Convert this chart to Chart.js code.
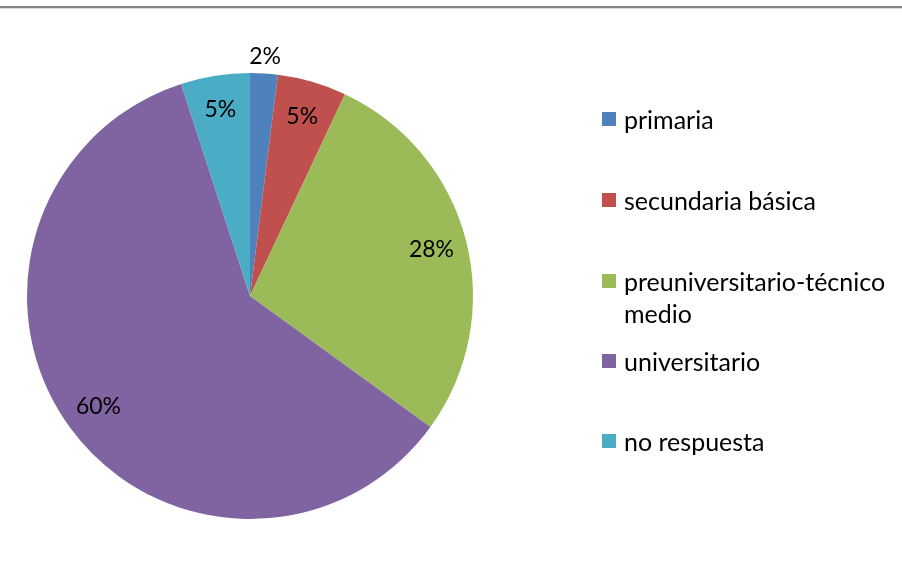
<!DOCTYPE html>
<html>
<head>
<meta charset="utf-8">
<script src="https://cdn.jsdelivr.net/npm/chart.js@4/dist/chart.umd.min.js"></script>
<style>
  body { margin: 0; background: #fff; }
  #wrap { position: relative; width: 902px; height: 579px; }
  #topline { position: absolute; left: 0; top: 6px; width: 902px; height: 2px; background: #868686; border-bottom: 1px solid #d9d9d9; }
  #legend { position: absolute; left: 602px; top: 0; font-family: Lato, sans-serif; font-size: 25px; color: #000; }
  .item { position: absolute; left: 0; width: 300px; }
  .box { position: absolute; left: 0; width: 14px; height: 14px; }
  .txt { position: absolute; left: 22px; top: 0; line-height: 32px; white-space: nowrap; }
</style>
</head>
<body>
<div id="wrap">
  <canvas id="pieChart" width="902" height="579"></canvas>
  <div id="topline"></div>
  <div id="legend"></div>
</div>
<script>
  const categories = ['primaria', 'secundaria básica', 'preuniversitario-técnico medio', 'universitario', 'no respuesta'];
  const legendLines = [['primaria'], ['secundaria básica'], ['preuniversitario-técnico', 'medio'], ['universitario'], ['no respuesta']];
  const percentages = [2, 5, 28, 60, 5];
  const colors = ['#4F81BD', '#C0504D', '#9BBB59', '#8064A2', '#4BACC6'];
  // how far out each label sits (fraction of the radius)
  const labelRadius = [1.08, 0.84, 0.84, 0.84, 0.85];

  // Plugin to draw the percentage labels
  const pieLabels = {
    id: 'pieLabels',
    afterDatasetsDraw(chart) {
      const ctx = chart.ctx;
      const meta = chart.getDatasetMeta(0);
      ctx.save();
      ctx.font = '23px Lato, sans-serif';
      ctx.fillStyle = '#000';
      ctx.textAlign = 'center';
      ctx.textBaseline = 'alphabetic';
      meta.data.forEach((arc, i) => {
        const mid = (arc.startAngle + arc.endAngle) / 2;
        const r = arc.outerRadius * labelRadius[i];
        // +8 puts the digits' middle on the anchor point
        ctx.fillText(percentages[i] + '%', arc.x + Math.cos(mid) * r, arc.y + Math.sin(mid) * r + 8);
      });
      ctx.restore();
    }
  };

  const pie = document.getElementById('pieChart');
  const pieChart = new Chart(pie, {
    type: 'pie',
    data: {
      labels: categories,
      datasets: [{
        data: percentages,
        backgroundColor: colors,
        borderWidth: 0
      }]
    },
    options: {
      responsive: false,
      animation: false,
      layout: {
        padding: { left: 27, right: 429, top: 73, bottom: 60 }
      },
      plugins: {
        legend: { display: false },
        tooltip: { enabled: false }
      }
    },
    plugins: [pieLabels]
  });

  // Build the legend on the right
  const legend = document.getElementById('legend');
  const legendTop = [103, 184, 265, 345, 425];
  legendLines.forEach((lines, i) => {
    const item = document.createElement('div');
    item.className = 'item';
    item.style.top = legendTop[i] + 'px';
    item.innerHTML = '<div class="box" style="background:' + colors[i] + ';top:9px"></div>' +
      '<div class="txt">' + lines.join('<br>') + '</div>';
    legend.appendChild(item);
  });
</script>
</body>
</html>
